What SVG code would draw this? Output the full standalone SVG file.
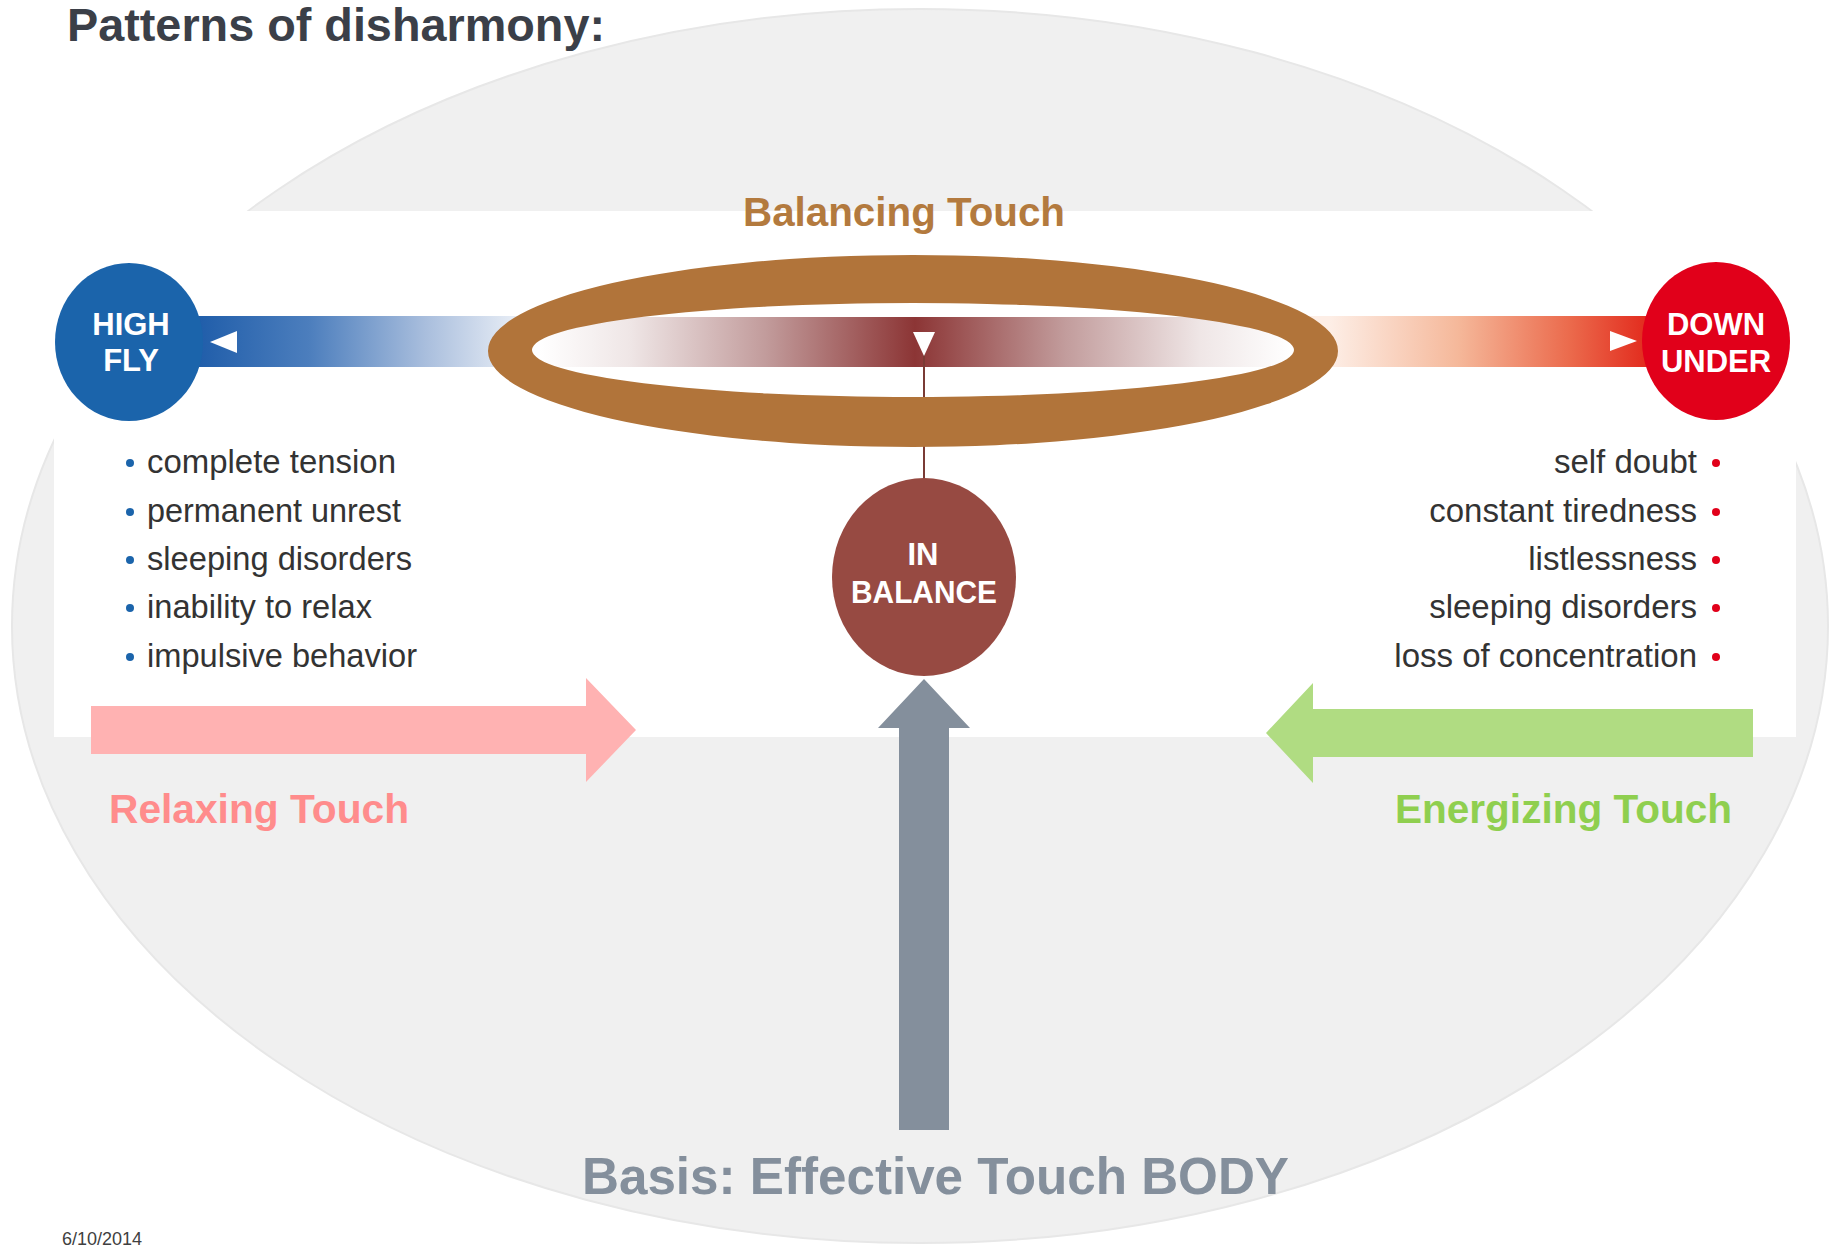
<svg xmlns="http://www.w3.org/2000/svg" width="1835" height="1248" viewBox="0 0 1835 1248">
  <style>
    .sans { font-family: "Liberation Sans", Arial, sans-serif; }
    .bold { font-family: "Liberation Sans", Arial, sans-serif; font-weight: bold; }
    .cap { font-family: "Liberation Sans", Arial, sans-serif; font-weight: bold; font-size: 31px; fill: #ffffff; text-anchor: middle; }
    .item { font-family: "Liberation Sans", Arial, sans-serif; font-size: 33px; fill: #333333; }
    .right { text-anchor: end; }
    .touch { font-family: "Liberation Sans", Arial, sans-serif; font-weight: bold; font-size: 40px; }
  </style>
  <defs>
    <linearGradient id="gradBlue" gradientUnits="userSpaceOnUse" x1="193" y1="0" x2="525" y2="0">
      <stop offset="0" stop-color="#1e5ca9"/>
      <stop offset="0.35" stop-color="#4c7ebd"/>
      <stop offset="0.7" stop-color="#a9bedd"/>
      <stop offset="1" stop-color="#eef2f8"/>
    </linearGradient>
    <linearGradient id="gradRed" gradientUnits="userSpaceOnUse" x1="1330" y1="0" x2="1650" y2="0">
      <stop offset="0" stop-color="#fdeee6"/>
      <stop offset="0.4" stop-color="#f5b89a"/>
      <stop offset="0.75" stop-color="#eb6a4c"/>
      <stop offset="1" stop-color="#e2291c"/>
    </linearGradient>
    <linearGradient id="gradCenter" gradientUnits="userSpaceOnUse" x1="540" y1="0" x2="1290" y2="0">
      <stop offset="0" stop-color="#ffffff"/>
      <stop offset="0.12" stop-color="#efe6e6"/>
      <stop offset="0.3" stop-color="#c29c9c"/>
      <stop offset="0.5" stop-color="#8c3535"/>
      <stop offset="0.7" stop-color="#c29c9c"/>
      <stop offset="0.88" stop-color="#efe6e6"/>
      <stop offset="1" stop-color="#ffffff"/>
    </linearGradient>
  </defs>

  <!-- backdrop: white page, pale oval, white middle band -->
  <rect x="0" y="0" width="1835" height="1248" fill="#ffffff"/>
  <ellipse cx="920" cy="626" rx="908" ry="617" fill="#f0f0f0" stroke="#e7e7e7" stroke-width="2"/>
  <rect x="54" y="211" width="1742" height="526" fill="#ffffff"/>

  <text id="title" class="bold" x="67" y="41" font-size="47" fill="#3b3f48" textLength="538" lengthAdjust="spacingAndGlyphs">Patterns of disharmony:</text>

  <!-- connectors: gradient bars, plumb line and the three touch arrows -->
  <g id="connectors">
    <rect x="190" y="316" width="345" height="51" fill="url(#gradBlue)"/>
    <rect x="1300" y="316" width="360" height="51" fill="url(#gradRed)"/>
    <rect x="520" y="317" width="790" height="50" fill="url(#gradCenter)"/>
    <line x1="924" y1="350" x2="924" y2="482" stroke="#7a3b35" stroke-width="2"/>
    <polygon id="relaxing-arrow" points="91,706 586,706 586,678 636,730 586,782 586,754 91,754" fill="#ffb2b2"/>
    <polygon id="energizing-arrow" points="1753,709 1313,709 1313,683 1266,733 1313,783 1313,757 1753,757" fill="#b0dc82"/>
    <polygon id="basis-arrow" points="899,1130 899,728 878,728 924,679 970,728 949,728 949,1130" fill="#848f9c"/>
  </g>

  <!-- balancing ring -->
  <g id="balancing">
    <path d="M488,351 a425,96 0 1,0 850,0 a425,96 0 1,0 -850,0 Z M532,350 a381,47 0 1,0 762,0 a381,47 0 1,0 -762,0 Z" fill="#b1743a" fill-rule="evenodd"/>
    <polygon points="913,332 935,332 924,356" fill="#ffffff"/>
    <text class="touch" x="743" y="226" fill="#b37a3e" textLength="322" lengthAdjust="spacingAndGlyphs">Balancing  Touch</text>
  </g>

  <g id="high-fly">
    <ellipse cx="129" cy="342" rx="74" ry="79" fill="#1b64ab"/>
    <polygon points="210,342 237,331 237,353" fill="#ffffff"/>
    <text class="cap" x="131" y="335">HIGH</text>
    <text class="cap" x="131" y="371">FLY</text>
  </g>

  <g id="down-under">
    <ellipse cx="1716" cy="341" rx="74" ry="79" fill="#e1001a"/>
    <polygon points="1637,341 1610,331 1610,351" fill="#ffffff"/>
    <text class="cap" x="1716" y="335">DOWN</text>
    <text class="cap" x="1716" y="372">UNDER</text>
  </g>

  <g id="in-balance">
    <ellipse cx="924" cy="577" rx="92" ry="99" fill="#974a42"/>
    <text class="cap" x="923" y="565">IN</text>
    <text class="cap" x="924" y="603" textLength="146" lengthAdjust="spacingAndGlyphs">BALANCE</text>
  </g>

  <g id="high-fly-signs">
    <g fill="#1b64ab">
      <circle cx="130" cy="463" r="4"/>
      <circle cx="130" cy="512" r="4"/>
      <circle cx="130" cy="560" r="4"/>
      <circle cx="130" cy="608" r="4"/>
      <circle cx="130" cy="657" r="4"/>
    </g>
    <text class="item" x="147" y="473" textLength="249" lengthAdjust="spacingAndGlyphs">complete tension</text>
    <text class="item" x="147" y="522" textLength="254" lengthAdjust="spacingAndGlyphs">permanent unrest</text>
    <text class="item" x="147" y="570" textLength="265" lengthAdjust="spacingAndGlyphs">sleeping disorders</text>
    <text class="item" x="147" y="618" textLength="225" lengthAdjust="spacingAndGlyphs">inability to relax</text>
    <text class="item" x="147" y="667" textLength="270" lengthAdjust="spacingAndGlyphs">impulsive behavior</text>
  </g>

  <g id="down-under-signs">
    <g fill="#e1001a">
      <circle cx="1716" cy="463" r="4"/>
      <circle cx="1716" cy="512" r="4"/>
      <circle cx="1716" cy="560" r="4"/>
      <circle cx="1716" cy="608" r="4"/>
      <circle cx="1716" cy="657" r="4"/>
    </g>
    <text class="item right" x="1697" y="473">self doubt</text>
    <text class="item right" x="1697" y="522">constant tiredness</text>
    <text class="item right" x="1697" y="570">listlessness</text>
    <text class="item right" x="1697" y="618">sleeping disorders</text>
    <text class="item right" x="1697" y="667">loss of concentration</text>
  </g>

  <text id="relaxing-label" class="touch" x="109" y="823" fill="#ff8c8c" textLength="300" lengthAdjust="spacingAndGlyphs">Relaxing  Touch</text>
  <text id="energizing-label" class="touch" x="1395" y="823" fill="#8fcf4f" textLength="337" lengthAdjust="spacingAndGlyphs">Energizing  Touch</text>
  <text id="basis-label" class="bold" x="582" y="1194" font-size="52" fill="#848f9c" textLength="707" lengthAdjust="spacingAndGlyphs">Basis: Effective Touch BODY</text>

  <text id="date" class="sans" x="62" y="1245" font-size="18" fill="#404040">6/10/2014</text>
</svg>
